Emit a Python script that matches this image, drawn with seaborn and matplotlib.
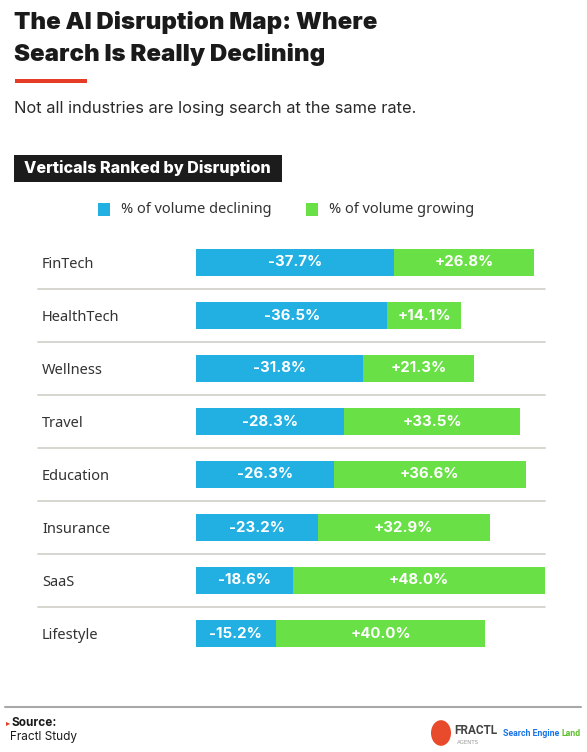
import matplotlib
matplotlib.use("Agg")
import matplotlib.pyplot as plt
import seaborn as sns
import pandas as pd
from matplotlib.transforms import blended_transform_factory
from matplotlib.patches import Rectangle, Circle
from matplotlib.lines import Line2D

categories = ["FinTech", "HealthTech", "Wellness", "Travel", "Education", "Insurance", "SaaS", "Lifestyle"]
declining = [37.7, 36.5, 31.8, 28.3, 26.3, 23.2, 18.6, 15.2]
growing = [26.8, 14.1, 21.3, 33.5, 36.6, 32.9, 48.0, 40.0]

BLUE = "#22b0e2"
GREEN = "#69e046"
DARK = "#1a1a1a"
TEXT = "#333333"

df = pd.DataFrame({"category": categories, "declining": declining, "growing": growing})
df["total"] = df["declining"] + df["growing"]

sns.set_theme(style="white")
plt.rcParams["font.family"] = ["DejaVu Sans"]

W, H = 587, 752
fig = plt.figure(figsize=(W / 100, H / 100), dpi=100)
fig.patch.set_facecolor("white")

def fx(px):
    return px / W

def fy(py):
    return 1 - py / H

# axes: bars from x=196 to 545 px, rows centered 262.5 .. 633.5
ax = fig.add_axes([fx(196), fy(660), fx(545) - fx(196), (660 - 236) / H])
sns.barplot(data=df, y="category", x="total", color=GREEN, orient="h", width=0.51,
            ax=ax, saturation=1, edgecolor="none")
sns.barplot(data=df, y="category", x="declining", color=BLUE, orient="h", width=0.51,
            ax=ax, saturation=1, edgecolor="none")
ax.set_xlim(0, df["total"].max())
ax.set_ylim(len(categories) - 0.5, -0.5)
ax.axis("off")

tr = blended_transform_factory(fig.transFigure, ax.transData)
for i, (c, d, g) in enumerate(zip(categories, declining, growing)):
    ax.text(fx(42), i + 0.03, c, transform=tr, ha="left", va="center", fontsize=10.5,
            color=TEXT, family=["Noto Sans", "DejaVu Sans"])
    ax.text(d / 2, i, f"-{d:.1f}%", ha="center", va="center", fontsize=10.8,
            color="white", fontweight="bold", family=["Inter", "DejaVu Sans"])
    ax.text(d + g / 2, i, f"+{g:.1f}%", ha="center", va="center", fontsize=10.8,
            color="white", fontweight="bold", family=["Inter", "DejaVu Sans"])
    if i < len(categories) - 1:
        ax.plot([fx(38), fx(545)], [i + 0.5, i + 0.5], transform=tr, color="#d4d2cc",
                lw=1.3, clip_on=False)

# Title
fig.text(fx(14), fy(22), "The AI Disruption Map: Where", fontsize=17.3, fontweight="black",
         color=DARK, ha="left", va="center", family=["Inter", "DejaVu Sans"])
fig.text(fx(14), fy(54), "Search Is Really Declining", fontsize=17.3, fontweight="black",
         color=DARK, ha="left", va="center", family=["Inter", "DejaVu Sans"])
fig.add_artist(Rectangle((fx(15), fy(82.5)), fx(87) - fx(15), 3 / H, transform=fig.transFigure,
                         facecolor="#e63c25", edgecolor="none"))
fig.text(fx(14), fy(108), "Not all industries are losing search at the same rate.", fontsize=11.8,
         color="#2a2a2a", ha="left", va="center", family=["Inter", "DejaVu Sans"])

# Section header box
fig.add_artist(Rectangle((fx(14), fy(182)), fx(282) - fx(14), 27 / H, transform=fig.transFigure,
                         facecolor="#1c1c1c", edgecolor="none"))
fig.text(fx(24), fy(168.5), "Verticals Ranked by Disruption", fontsize=11.6, fontweight="heavy",
         color="white", ha="left", va="center", family=["Inter", "DejaVu Sans"])

# Legend
fig.add_artist(Rectangle((fx(98), fy(216)), 12 / W, 13 / H, transform=fig.transFigure,
                         facecolor=BLUE, edgecolor="none"))
fig.text(fx(121), fy(209.5), "% of volume declining", fontsize=10.5, color=TEXT,
         ha="left", va="center", family=["Noto Sans", "DejaVu Sans"])
fig.add_artist(Rectangle((fx(306), fy(216)), 12 / W, 13 / H, transform=fig.transFigure,
                         facecolor=GREEN, edgecolor="none"))
fig.text(fx(329), fy(209.5), "% of volume growing", fontsize=10.5, color=TEXT,
         ha="left", va="center", family=["Noto Sans", "DejaVu Sans"])

# Footer
fig.add_artist(Line2D([fx(5), fx(581)], [fy(707), fy(707)], transform=fig.transFigure,
                      color="#a8a8a8", lw=1.5))
fig.text(fx(6), fy(723), "\u25B8", fontsize=6, color="#e63c25", ha="left", va="center")
fig.text(fx(11), fy(723), "Source:", fontsize=8.5, fontweight="bold", color=DARK,
         ha="left", va="center", family=["Inter", "DejaVu Sans"])
fig.text(fx(10), fy(737), "Fractl Study", fontsize=8.5, color=DARK,
         ha="left", va="center", family=["Inter", "DejaVu Sans"])

fig.add_artist(Circle((fx(441), fy(733)), 10 / W, transform=fig.transFigure,
                      facecolor="#e84a2c", edgecolor="none"))
fig.text(fx(454), fy(731), "FRACTL", fontsize=8.5, fontweight="bold", color="#444444",
         ha="left", va="center", family=["Roboto", "DejaVu Sans"])
fig.text(fx(457), fy(742), "AGENTS", fontsize=4, color="#999999", ha="left", va="center")
t1 = fig.text(fx(503), fy(733), "Search Engine ", fontsize=6.3, fontweight="bold", color="#1a73e8",
              ha="left", va="center", family=["Roboto", "DejaVu Sans"])
renderer = fig.canvas.get_renderer()
bb = t1.get_window_extent(renderer=renderer)
fig.text(bb.x1 / (W), fy(733), "Land", fontsize=6.3, fontweight="bold", color="#5cbf2a",
         ha="left", va="center", family=["Roboto", "DejaVu Sans"])

fig.savefig("out.png", dpi=100, facecolor="white")
